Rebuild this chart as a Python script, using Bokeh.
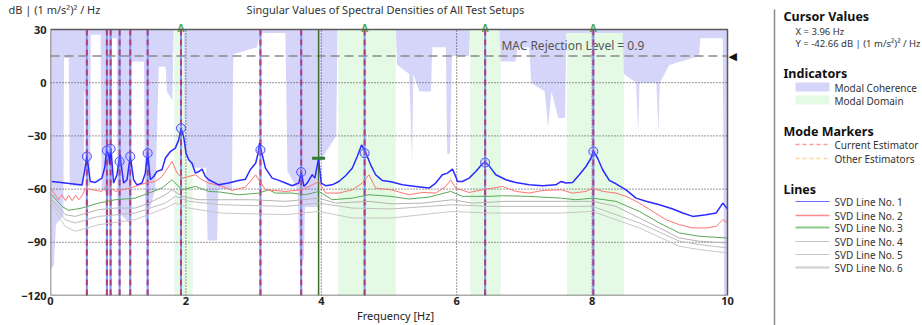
from bokeh.plotting import figure
from bokeh.models import Range1d, FixedTicker
from bokeh.layouts import row, column
from bokeh.embed import file_html
from bokeh.resources import INLINE
from bokeh.core.properties import value

FONT = "Noto Sans"

# ---------------- data ----------------
svd1_freq = [0.02, 0.217, 0.464, 0.503, 0.537, 0.587, 0.661, 0.759, 0.80, 0.828, 0.858, 0.873, 0.893, 0.932,
             0.981, 1.026, 1.08, 1.13, 1.178, 1.228, 1.277, 1.351, 1.40, 1.435, 1.474, 1.524, 1.573, 1.647,
             1.696, 1.77, 1.844, 1.894, 1.928, 1.967, 2.002, 2.041, 2.091, 2.14, 2.19, 2.239, 2.288, 2.337,
             2.436, 2.485, 2.63, 2.78, 2.88, 2.95, 3.03, 3.067, 3.087, 3.116, 3.175, 3.274, 3.373, 3.471,
             3.57, 3.668, 3.705, 3.742, 3.792, 3.866, 3.905, 3.96, 3.999, 4.063, 4.16, 4.26, 4.358, 4.457,
             4.531, 4.595, 4.65, 4.729, 4.802, 4.9, 5.03, 5.197, 5.394, 5.592, 5.69, 5.789, 5.863, 5.937,
             5.986, 6.01, 6.085, 6.183, 6.282, 6.38, 6.42, 6.479, 6.578, 6.726, 6.874, 7.071, 7.268, 7.465,
             7.544, 7.614, 7.712, 7.811, 7.91, 7.983, 8.018, 8.082, 8.156, 8.254, 8.353, 8.501, 8.649, 8.797,
             8.994, 9.192, 9.339, 9.487, 9.684, 9.832, 9.931, 10.0]
svd1_db = [-55.7, -56.6, -57.75, -50.0, -41.0, -55.7, -56.25, -53.8, -48.0, -38.5, -40.0, -46.0, -37.3, -56.6,
           -52.0, -40.7, -56.6, -54.75, -41.2, -54.75, -57.6, -56.6, -51.0, -39.0, -54.75, -52.9, -50.0, -49.1,
           -42.6, -38.8, -36.9, -32.25, -25.5, -30.4, -39.75, -43.5, -45.4, -51.0, -50.1, -48.75, -52.9, -54.75,
           -56.6, -57.6, -56.6, -55.1, -54.4, -49.1, -45.4, -39.75, -34.1, -38.8, -48.2, -53.8, -55.1, -56.6,
           -58.1, -56.6, -50.4, -58.5, -56.6, -51.9, -53.8, -42.66, -56.6, -58.1, -57.6, -55.7, -52.5, -48.2,
           -41.6, -35.1, -38.8, -46.3, -51.9, -55.1, -55.9, -57.6, -58.5, -59.4, -56.6, -51.9, -51.0, -48.75,
           -52.9, -55.7, -55.7, -53.8, -50.1, -45.75, -44.8, -46.9, -51.9, -54.75, -56.25, -57.6, -58.1, -57.6,
           -55.7, -56.6, -56.25, -51.9, -47.25, -42.6, -38.5, -42.6, -49.1, -55.1, -57.0, -60.4, -65.1, -66.9,
           -68.8, -71.25, -73.5, -75.4, -74.4, -73.5, -67.9, -71.25]

svd2_freq = [0.02, 0.118, 0.17, 0.22, 0.27, 0.32, 0.37, 0.42, 0.474, 0.513, 0.612, 0.76, 0.833, 0.957, 1.105,
             1.252, 1.40, 1.548, 1.647, 1.795, 1.87, 1.943, 2.041, 2.14, 2.239, 2.337, 2.515, 2.68, 2.88, 3.03,
             3.077, 3.175, 3.471, 3.718, 3.866, 3.964, 4.063, 4.26, 4.457, 4.605, 4.704, 4.802, 5.03, 5.296,
             5.493, 5.69, 5.838, 5.912, 5.986, 6.183, 6.38, 6.677, 6.874, 7.071, 7.268, 7.544, 7.712, 7.91,
             8.008, 8.156, 8.353, 8.501, 8.698, 8.896, 9.093, 9.29, 9.487, 9.684, 9.832, 9.931, 10.0]
svd2_db = [-60.4, -66.0, -63.2, -66.5, -63.5, -66.5, -63.5, -66.0, -63.2, -59.4, -60.4, -61.3, -57.6, -61.3, -60.0,
           -58.5, -56.6, -55.7, -52.9, -44.4, -51.0, -53.8, -52.9, -51.9, -54.75, -56.6, -58.1, -60.75, -58.9, -51.9,
           -54.75, -60.4, -61.3, -60.4, -57.6, -55.7, -62.25, -62.25, -60.4, -56.6, -51.9, -59.4, -60.4, -63.2,
           -61.9, -62.25, -58.5, -54.75, -59.4, -61.9, -60.4, -58.5, -61.3, -62.25, -60.75, -60.4, -62.25, -61.3,
           -59.4, -61.3, -62.25, -64.1, -67.9, -72.6, -77.25, -80.1, -81.9, -81.9, -81.0, -77.25, -79.1]

svd3_freq = [0.02, 0.17, 0.27, 0.464, 0.71, 0.957, 1.252, 1.45, 1.647, 1.795, 1.943, 2.14, 2.337, 2.515, 2.78,
             3.077, 3.225, 3.323, 3.57, 3.767, 3.964, 4.16, 4.457, 4.704, 5.03, 5.296, 5.592, 5.912, 6.085,
             6.479, 6.677, 7.071, 7.544, 7.76, 8.008, 8.353, 8.698, 8.994, 9.29, 9.586, 10.0]
svd3_db = [-63.2, -69.75, -72.0, -70.7, -67.9, -66.0, -65.1, -62.25, -59.4, -54.75, -60.4, -58.5, -61.3, -61.7,
           -63.2, -62.25, -60.4, -62.25, -62.25, -63.2, -61.3, -66.0, -65.1, -63.2, -64.1, -65.6, -64.5, -61.3,
           -64.1, -64.1, -63.75, -64.1, -65.1, -66.0, -65.1, -66.9, -72.6, -79.1, -84.75, -86.6, -87.6]

svd4_freq = [0.02, 0.217, 0.364, 0.71, 0.957, 1.252, 1.45, 1.70, 1.795, 1.943, 2.19, 2.515, 2.98, 3.47, 3.964,
             4.21, 4.704, 5.03, 5.493, 5.937, 6.232, 6.726, 7.544, 8.008, 8.353, 8.698, 8.994, 9.29, 9.586, 10.0]
svd4_db = [-66.0, -74.4, -75.4, -71.6, -70.7, -70.7, -67.9, -63.2, -60.4, -64.1, -66.0, -66.0, -66.0, -66.9, -65.1,
           -67.9, -66.9, -68.3, -67.9, -66.0, -67.9, -66.9, -66.9, -66.9, -69.75, -76.3, -81.9, -87.6, -89.4, -90.4]

svd5_freq = [0.02, 0.217, 0.364, 0.71, 1.252, 1.696, 1.844, 2.041, 2.515, 3.47, 3.964, 4.457, 5.03, 5.937, 6.479,
             7.544, 8.008, 8.698, 9.29, 9.586, 10.0]
svd5_db = [-67.9, -77.25, -79.1, -75.4, -73.5, -67.9, -64.1, -66.9, -68.8, -69.75, -67.9, -70.7, -71.2, -68.8, -69.75,
           -69.75, -69.75, -79.1, -89.4, -91.3, -93.2]

svd6_freq = [0.02, 0.217, 0.364, 0.71, 1.252, 1.696, 1.844, 2.041, 2.515, 3.47, 3.964, 4.457, 5.03, 5.937, 6.479,
             7.544, 8.008, 8.698, 9.29, 9.586, 10.0]
svd6_db = [-69.75, -81.0, -83.8, -80.1, -77.25, -70.7, -67.9, -70.7, -73.5, -74.4, -72.6, -76.3, -76.3, -72.6, -73.5,
           -73.5, -72.6, -81.9, -92.25, -94.1, -96.0]

mode_freq = [0.537, 0.833, 0.888, 1.021, 1.178, 1.435, 1.928, 3.101, 3.703, 4.64, 6.42, 8.018]
mode_db = [-41.6, -38.25, -37.3, -44.4, -41.6, -39.75, -25.7, -37.9, -50.4, -39.75, -45.0, -38.8]
accepted_freq = [1.928, 4.64, 6.42, 8.018]

domain_start = [1.83, 4.25, 6.20, 7.63]
domain_end = [2.10, 5.10, 6.65, 8.47]

coh_freq = [0.0, 0.05, 0.08, 0.19, 0.2, 0.27, 0.285, 0.49, 0.5, 0.515, 0.525, 0.585, 0.595, 0.74, 0.755, 0.83,
            0.9, 0.91, 0.98, 0.99, 1.18, 1.2, 1.38, 1.4, 1.46, 1.55, 1.6, 1.7, 1.72, 1.8, 1.82, 1.97, 1.985,
            2.1, 2.3, 2.32, 2.46, 2.48, 2.68, 2.7, 3.05, 3.08, 3.1, 3.47, 3.5, 3.65, 3.68, 3.74, 3.76, 3.95,
            3.97, 4.22, 4.24, 5.1, 5.12, 5.3, 5.34, 5.36, 5.45, 5.62, 5.64, 5.84, 5.86, 5.9, 5.93, 6.18, 6.2,
            6.63, 6.65, 6.87, 6.9, 7.07, 7.1, 7.3, 7.35, 7.4, 7.5, 7.6, 7.62, 8.45, 8.47, 8.65, 8.68, 8.7, 8.95,
            8.98, 9.0, 9.14, 9.58, 9.6, 9.93, 9.95, 10.0]
coh_val = [0.10, 0.113, 0.267, 0.30, 0.893, 0.893, 0.413, 0.413, 0.767, 0.767, 0.413, 0.413, 0.98, 0.98, 0.40,
           0.387, 0.333, 0.967, 0.967, 0.32, 0.267, 0.88, 0.88, 0.267, 0.32, 0.40, 0.86, 0.86, 0.767, 0.733, 1.0,
           1.0, 0.533, 0.48, 0.48, 0.207, 0.207, 0.40, 0.40, 0.907, 0.933, 0.967, 0.987, 0.987, 0.467, 0.40,
           0.133, 0.133, 0.333, 0.333, 0.50, 0.60, 1.0, 1.0, 0.867, 0.833, 0.50, 0.833, 0.767, 0.767, 0.933,
           0.933, 0.533, 0.533, 0.90, 0.90, 1.0, 1.0, 0.88, 0.88, 0.933, 0.933, 0.80, 0.767, 0.633, 0.767,
           0.667, 0.667, 0.987, 0.987, 0.833, 0.80, 0.613, 0.80, 0.80, 0.613, 0.80, 0.867, 0.90, 0.967, 0.967,
           0.0, 0.0]

mac_level = 0.9
cursor_freq = 3.96
cursor_db = -42.66

x_ticks = [0, 2, 4, 6, 8, 10]
y_ticks = [30, 0, -30, -60, -90, -120]
X_MIN, X_MAX = 0, 10
Y_MIN, Y_MAX = -120, 30

# ---------------- layout geometry (pixels) ----------------
W_MAIN, H = 770, 325
LEFT, PLOT_W, RIGHT_PAD = 50, 677, 13       # frame box 50..727 is 0..10 Hz; 13 px more for the MAC arrow
STRIP_H = 17                                # title strip height
BOX_TOP, PLOT_H = 29, 266                   # box 29..295 is 30..-120 dB
HZ_PER_PX = (X_MAX - X_MIN) / PLOT_W
DB_PER_PX = (Y_MAX - Y_MIN) / PLOT_H
X_END = X_MAX + RIGHT_PAD * HZ_PER_PX
Y_END = Y_MAX + (BOX_TOP - STRIP_H) * DB_PER_PX   # room above the box for the accepted-mode flags

# ---------------- main chart ----------------
p = figure(width=W_MAIN, height=H - STRIP_H, x_range=Range1d(X_MIN, X_END), y_range=Range1d(Y_MIN, Y_END),
           output_backend="svg", toolbar_location=None,
           min_border_left=LEFT, min_border_right=W_MAIN - LEFT - PLOT_W - RIGHT_PAD,
           min_border_top=0, min_border_bottom=H - BOX_TOP - PLOT_H)
p.frame_align = False
p.background_fill_color = "white"
p.border_fill_color = "white"
p.outline_line_color = None
p.xgrid.visible = False
p.ygrid.visible = False

# modal domain bands
p.quad(left=domain_start, right=domain_end, bottom=Y_MIN, top=Y_MAX,
       fill_color="#e4fae4", line_color=None)

# modal coherence (fill from coherence level up to 1)
coh_db = [Y_MIN + c * (Y_MAX - Y_MIN) for c in coh_val]
p.varea(x=coh_freq, y1=coh_db, y2=Y_MAX, fill_color="#d5d5fa", fill_alpha=1.0)

# grid (dotted)
grid_x = [t for t in x_ticks if X_MIN < t < X_MAX]
grid_y = [t for t in y_ticks if Y_MIN < t < Y_MAX]
p.multi_line(xs=[[g, g] for g in grid_x], ys=[[Y_MIN, Y_MAX]] * len(grid_x),
             line_color="#333333", line_width=1, line_dash="1 2")
p.multi_line(xs=[[X_MIN, X_MAX]] * len(grid_y), ys=[[g, g] for g in grid_y],
             line_color="#333333", line_width=1, line_dash="1 2")

# MAC rejection level
mac_db = Y_MIN + mac_level * (Y_MAX - Y_MIN)
p.line(x=[X_MIN, X_MAX], y=[mac_db, mac_db], line_color="#8a8a8a", line_width=1.5, line_dash="9 5")
p.text(x=[X_MAX], y=[mac_db], text=["◀"], text_font=value("DejaVu Sans"), text_font_size="11px",
       text_color="#111111", text_baseline="middle", text_align="left", x_offset=1)
p.text(x=[6.66], y=[mac_db], text=["MAC Rejection Level = 0.9"], text_font=value(FONT),
       text_font_size="12px", text_color="#555555", text_baseline="bottom", text_align="left", y_offset=-2)

# mode markers
p.multi_line(xs=[[f, f] for f in mode_freq], ys=[[Y_MIN, Y_MAX]] * len(mode_freq),
             line_color="#8098f2", line_width=2)
p.multi_line(xs=[[f, f] for f in mode_freq], ys=[[Y_MIN, Y_MAX]] * len(mode_freq),
             line_color="#b13c80", line_width=2, line_dash="6 4")

# accepted-mode flags above the box
flag_y = Y_MAX + 1.5 * DB_PER_PX
p.text(x=accepted_freq, y=[flag_y] * len(accepted_freq), text=["A"] * len(accepted_freq),
       text_font=value(FONT), text_font_size="10px", text_font_style="bold", text_color="#4fa84a",
       text_baseline="alphabetic", text_align="center")

# cursor
p.line(x=[cursor_freq, cursor_freq], y=[Y_MIN, Y_MAX], line_color="#3f6b2a", line_width=1.5)

# SVD lines (back to front)
p.line(svd6_freq, svd6_db, line_color="#c8c8c8", line_width=1)
p.line(svd5_freq, svd5_db, line_color="#bdbdbd", line_width=1)
p.line(svd4_freq, svd4_db, line_color="#b4b4b4", line_width=1)
p.line(svd3_freq, svd3_db, line_color="#5aa85a", line_width=1)
p.line(svd2_freq, svd2_db, line_color="#ff7373", line_width=1)
p.line(svd1_freq, svd1_db, line_color="#2b2bff", line_width=1.5)

# peak circles
p.scatter(mode_freq, mode_db, marker="circle", size=9, fill_color="#9aa6ff", fill_alpha=0.25,
          line_color="#4a4aff", line_width=1)

# cursor mark
p.scatter([cursor_freq], [cursor_db], marker="dash", size=13, line_color="#2f7d2f", line_width=3)

# plot frame box
p.quad(left=[X_MIN], right=[X_MAX], bottom=[Y_MIN], top=[Y_MAX], fill_color=None,
       line_color="#5a5a5a", line_width=1.5)

# axes
p.xaxis.ticker = FixedTicker(ticks=x_ticks)
p.yaxis.ticker = FixedTicker(ticks=y_ticks)
for ax in (p.xaxis[0], p.yaxis[0]):
    ax.axis_line_color = None
    ax.major_tick_line_color = None
    ax.minor_tick_line_color = None
    ax.major_tick_out = 0
    ax.major_tick_in = 0
    ax.minor_tick_out = 0
    ax.minor_tick_in = 0
    ax.major_label_text_font = FONT
    ax.major_label_text_font_style = "bold"
    ax.major_label_text_font_size = "11px"
    ax.major_label_text_color = "#222222"
p.xaxis.major_label_standoff = 1
p.yaxis.major_label_standoff = 4
p.xaxis.axis_label = "Frequency [Hz]"
p.xaxis.axis_label_text_font = FONT
p.xaxis.axis_label_text_font_size = "11px"
p.xaxis.axis_label_text_font_style = "normal"
p.xaxis.axis_label_text_color = "#222222"
p.xaxis.axis_label_standoff = 0

# ---------------- top strip: chart title and unit label ----------------
top = figure(width=W_MAIN, height=STRIP_H, x_range=Range1d(0, W_MAIN), y_range=Range1d(STRIP_H, 0),
             output_backend="svg", toolbar_location=None,
             x_axis_type=None, y_axis_type=None, min_border=0)
top.frame_align = False
top.outline_line_color = None
top.xgrid.visible = False
top.ygrid.visible = False
top.background_fill_color = "white"
top.border_fill_color = "white"
top.text(x=[8], y=[9], text=["dB | (1 m/s²)² / Hz"], text_font=value(FONT),
         text_font_size="11px", text_color="#333333", text_baseline="middle", text_align="left")
top.text(x=[385], y=[9], text=["Singular Values of Spectral Densities of All Test Setups"],
         text_font=value(FONT), text_font_size="11px", text_color="#333333",
         text_baseline="middle", text_align="center")

# ---------------- side panel ----------------
q = figure(width=922 - W_MAIN, height=H, x_range=Range1d(W_MAIN, 922), y_range=Range1d(H, 0),
           output_backend="svg", toolbar_location=None, x_axis_type=None, y_axis_type=None,
           min_border=0)
q.frame_align = False
q.outline_line_color = None
q.xgrid.visible = False
q.ygrid.visible = False
q.background_fill_color = "white"
q.border_fill_color = "white"

q.line([774, 774], [9, 325], line_color="#8c8c8c", line_width=1.5)

heads = ["Cursor Values", "Indicators", "Mode Markers", "Lines"]
head_y = [16, 73, 131, 189]
q.text(x=[783] * 4, y=head_y, text=heads, text_font=value(FONT), text_font_style="bold",
       text_font_size="12.5px", text_color="#111111", text_baseline="middle")

q.text(x=[795, 795], y=[31, 43], text=["X = 3.96 Hz", "Y = -42.66 dB | (1 m/s²)² / Hz"],
       text_font=value(FONT), text_font_size="9.5px", text_color="#333333", text_baseline="middle")

q.quad(left=[795, 795], right=[829, 829], top=[82, 95], bottom=[91, 104],
       fill_color=["#d5d5fa", "#e4fae4"], line_color=None)
item_labels = ["Modal Coherence", "Modal Domain", "Current Estimator", "Other Estimators",
               "SVD Line No. 1", "SVD Line No. 2", "SVD Line No. 3", "SVD Line No. 4",
               "SVD Line No. 5", "SVD Line No. 6"]
item_y = [87, 100, 144, 158, 201, 215, 227, 241, 254, 267]
q.text(x=[834] * len(item_labels), y=item_y, text=item_labels, text_font=value(FONT),
       text_font_size="10px", text_color="#333333", text_baseline="middle")

q.line([795, 829], [144, 144], line_color="#ff9a9a", line_width=1.5, line_dash="4 3")
q.line([795, 829], [158, 158], line_color="#ffd49a", line_width=1.5, line_dash="4 3")
line_cols = ["#6b6bff", "#ff8a8a", "#8ccb8c", "#c4c4c4", "#c8c8c8", "#d6d6d6"]
line_ws = [1.2, 1.5, 1.8, 1.2, 1.2, 2.5]
for yy, c, w in zip(item_y[4:], line_cols, line_ws):
    q.line([795, 829], [yy, yy], line_color=c, line_width=w)

layout = row(column(top, p), q)
open("out.html", "w").write(file_html(layout, INLINE))
